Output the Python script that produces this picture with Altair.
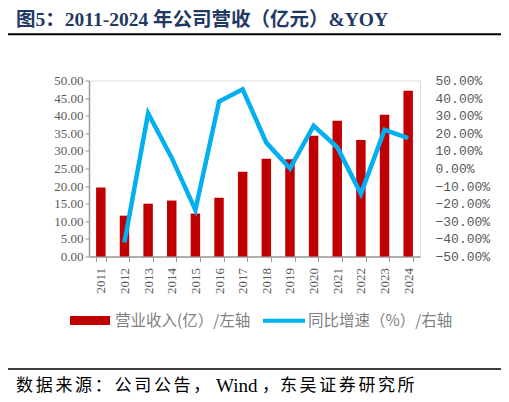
import altair as alt
import pandas as pd

years = ["2011", "2012", "2013", "2014", "2015", "2016", "2017",
         "2018", "2019", "2020", "2021", "2022", "2023", "2024"]
revenue = [19.6, 11.6, 15.0, 15.9, 12.2, 16.7, 24.1,
           27.8, 27.6, 34.3, 38.6, 33.1, 40.3, 47.1]
yoy = [None, -42.0, 31.4, 6.0, -23.5, 38.0, 45.0,
       14.7, 0.0, 24.2, 12.1, -14.4, 21.9, 17.2]

title_text = "图5：2011-2024 年公司营收（亿元）&YOY"
legend_bar = "营业收入(亿）/左轴"
legend_line = "同比增速（%）/右轴"
source_parts = ["数据来源：公司公告，", "Wind", "，", "东吴证券研究所"]

df = pd.DataFrame({"year": years, "rev": revenue, "yoy": yoy})

W, H = 331, 176
x_enc = alt.X("year:N", sort=years, title=None,
              scale=alt.Scale(paddingInner=0.6, paddingOuter=0.3),
              axis=alt.Axis(labelAngle=270, labelFont="Liberation Serif", labelFontSize=13,
                            labelColor="#595959", domainColor="#9a9a9a", tickColor="#9a9a9a",
                            tickBand="extent", tickSize=5, labelPadding=6, domainWidth=1.5))

bars = alt.Chart(df).mark_bar(color="#C00000").encode(
    x=x_enc,
    y=alt.Y("rev:Q", title=None,
            scale=alt.Scale(domain=[0, 50], nice=False),
            axis=alt.Axis(values=list(range(0, 51, 5)), format=".2f", grid=False,
                          labelFont="Liberation Serif", labelFontSize=13, labelColor="#595959",
                          domainColor="#9a9a9a", tickColor="#9a9a9a", tickSize=4,
                          labelPadding=2, domainWidth=1.5))
)

line = alt.Chart(df).transform_filter("datum.yoy != null").mark_line(
    color="#00B0F0", strokeWidth=4.5).encode(
    x=alt.X("year:N", sort=years),
    y=alt.Y("yoy:Q", title=None,
            scale=alt.Scale(domain=[-50, 50], nice=False),
            axis=alt.Axis(orient="right", values=list(range(-50, 51, 10)), grid=False,
                          labelExpr="format(datum.value, '.2f') + '%'",
                          labelFont="Liberation Mono", labelFontSize=13, labelColor="#595959",
                          domain=False, ticks=False, labelPadding=15))
)

main = alt.layer(bars, line).resolve_scale(y="independent")

ox, oy = 89, 80.5
tfont = "Liberation Serif, Noto Sans CJK SC"


def txt(t, x, y, size, color, font, weight="normal"):
    return alt.Chart(pd.DataFrame({"t": [t]})).mark_text(
        align="left", baseline="middle", fontSize=size, color=color,
        font=font, fontWeight=weight).encode(
        text="t:N", x=alt.value(x - ox), y=alt.value(y - oy))


def spaced(s, x0, pitch, y, size, color, font, weight="normal"):
    return [txt(ch, x0 + i * pitch, y, size, color, font, weight) for i, ch in enumerate(s)]


title_layer = txt(title_text, 16, 19.5, 19.5, "#1F3864", tfont, "bold")
source_layers = (
    spaced(source_parts[0], 16, 19.7, 385.5, 17, "#000000", tfont)
    + [txt(source_parts[1], 216, 385.5, 19, "#000000", tfont),
       txt(source_parts[2], 262, 385.5, 17, "#000000", tfont)]
    + spaced(source_parts[3], 280, 19.6, 385.5, 17, "#000000", tfont)
)

rule_top = alt.Chart(pd.DataFrame({"a": [0]})).mark_rule(color="#000000", strokeWidth=2).encode(
    x=alt.value(5 - ox), x2=alt.value(503 - ox), y=alt.value(34.3 - oy))
rule_bot = alt.Chart(pd.DataFrame({"a": [0]})).mark_rule(color="#000000", strokeWidth=1.5).encode(
    x=alt.value(5 - ox), x2=alt.value(503 - ox), y=alt.value(369 - oy))
leg_rect = alt.Chart(pd.DataFrame({"a": [0]})).mark_rect(color="#C00000").encode(
    x=alt.value(70 - ox), x2=alt.value(110 - ox), y=alt.value(316 - oy), y2=alt.value(325 - oy))
leg_line = alt.Chart(pd.DataFrame({"a": [0]})).mark_rule(color="#00B0F0", strokeWidth=4).encode(
    x=alt.value(263 - ox), x2=alt.value(305 - ox), y=alt.value(320.7 - oy))
leg_t1 = txt(legend_bar, 115, 320.5, 15.5, "#7f7f7f", "Noto Sans CJK SC")
leg_t2 = txt(legend_line, 308, 320.5, 15.5, "#7f7f7f", "Noto Sans CJK SC")

chart = alt.layer(main, title_layer, rule_top, rule_bot, leg_rect, leg_line, leg_t1, leg_t2,
                  *source_layers).properties(
    width=W, height=H,
    autosize=alt.AutoSizeParams(type="none"),
    padding={"left": ox - 8, "top": oy - 8, "right": 493 - (ox - 8) - W, "bottom": 386 - (oy - 8) - H},
).configure_view(stroke=None).configure(background="white")

chart.save("out.html", embed_options={"renderer": "svg", "actions": False})
